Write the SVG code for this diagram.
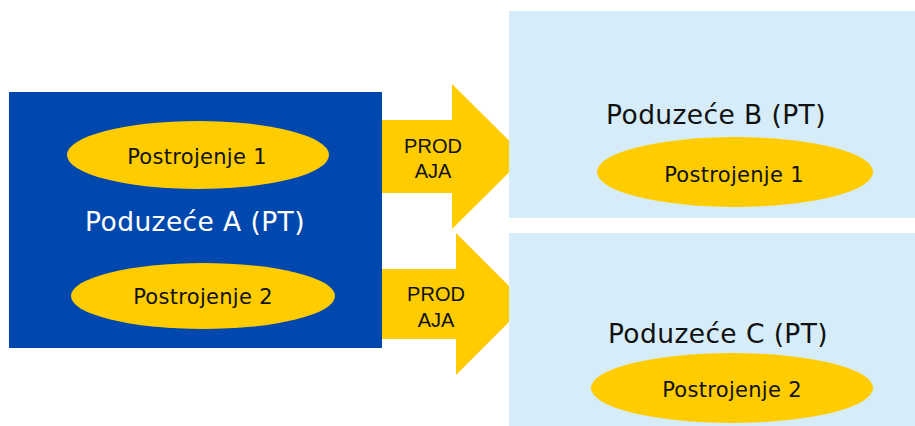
<svg xmlns="http://www.w3.org/2000/svg" width="915" height="426" viewBox="0 0 915 426">
<style>
.ell{fill:#FFCC00}
.plant{font-family:"DejaVu Sans","Verdana",sans-serif;font-size:21px;letter-spacing:0.3px;fill:#111;text-anchor:middle}
.co{font-family:"DejaVu Sans","Verdana",sans-serif;font-size:26.5px;letter-spacing:0.4px;text-anchor:middle}
.lbl{font-family:"Liberation Sans",Arial,sans-serif;font-size:20px;fill:#111;text-anchor:middle}
.light{fill:#D6EDF9}
.arrow{fill:#FFCC00}
</style>
<rect width="915" height="426" fill="#fff"/>
<g id="connectors">
<g id="arrow1"><polygon class="arrow" points="380,120 452,120 452,84 525,156.5 452,229 452,193 380,193"/>
<text class="lbl" x="433" y="152.5">PROD</text><text class="lbl" x="433" y="178">AJA</text></g>
<g id="arrow2"><polygon class="arrow" points="380,269 456,269 456,233 527,304 456,375 456,339 380,339"/>
<text class="lbl" x="436" y="301">PROD</text><text class="lbl" x="436" y="326.5">AJA</text></g>
</g>
<g id="companyA">
<rect x="9" y="92" width="373" height="256" fill="#0048AD"/>
<ellipse class="ell" cx="198" cy="155" rx="131" ry="34"/>
<text class="plant" x="197" y="164">Postrojenje 1</text>
<text class="co" x="195" y="230.5" fill="#fff">Poduzeće A (PT)</text>
<ellipse class="ell" cx="203" cy="296" rx="132" ry="33"/>
<text class="plant" x="203" y="304">Postrojenje 2</text>
</g>
<g id="companyB">
<rect class="light" x="509" y="11" width="406" height="207"/>
<text class="co" x="716" y="124" fill="#111">Poduzeće B (PT)</text>
<ellipse class="ell" cx="735" cy="172" rx="138" ry="35"/>
<text class="plant" x="734" y="181.5">Postrojenje 1</text>
</g>
<g id="companyC">
<rect class="light" x="509" y="233" width="406" height="193"/>
<text class="co" x="718" y="343" fill="#111">Poduzeće C (PT)</text>
<ellipse class="ell" cx="732" cy="388" rx="141" ry="35"/>
<text class="plant" x="732" y="396.5">Postrojenje 2</text>
</g>
</svg>
